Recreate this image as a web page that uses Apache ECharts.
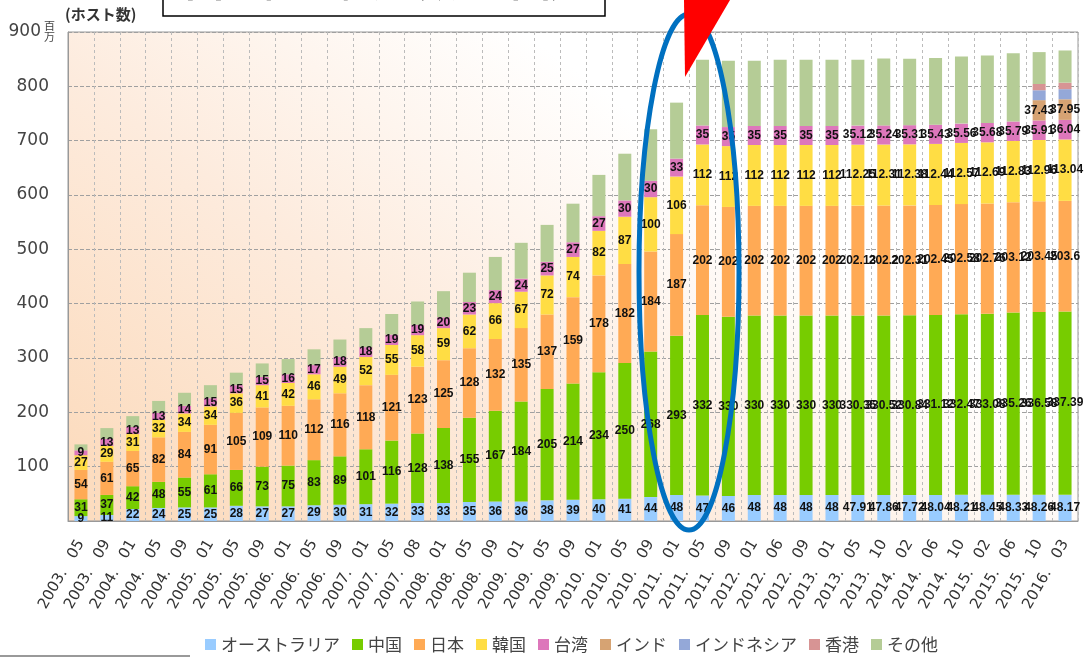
<!DOCTYPE html>
<html>
<head>
<meta charset="utf-8">
<script src="https://cdn.jsdelivr.net/npm/echarts@6/dist/echarts.min.js"></script>
<style>
  html, body { margin: 0; padding: 0; background: #fff; }
  #chart { width: 1091px; height: 659px; }
</style>
</head>
<body>
<div id="chart"></div>
<script>
// 調査時期
const months = ['2003. 05', '2003. 09', '2004. 01', '2004. 05', '2004. 09', '2005. 01', '2005. 05', '2005. 09',
  '2006. 01', '2006. 05', '2006. 09', '2007. 01', '2007. 05', '2007. 08', '2008. 01', '2008. 05', '2008. 09',
  '2009. 01', '2009. 05', '2009. 09', '2010. 01', '2010. 05', '2010. 09', '2011. 01', '2011. 05', '2011. 09',
  '2012. 01', '2012. 06', '2012. 09', '2013. 01', '2013. 05', '2013. 10', '2014. 02', '2014. 06', '2014. 10',
  '2015. 02', '2015. 06', '2015. 10', '2016. 03']

// 国別ホスト数（百万）
const australia = [9, 11, 22, 24, 25, 25, 28, 27, 27, 29, 30, 31, 32, 33, 33, 35, 36, 36, 38, 39,
  40, 41, 44, 48, 47, 46, 48, 48, 48, 48, 47.91, 47.86, 47.72, 48.04, 48.21, 48.45, 48.33, 48.26, 48.17]
const china = [31, 37, 42, 48, 55, 61, 66, 73, 75, 83, 89, 101, 116, 128, 138, 155, 167, 184, 205, 214,
  234, 250, 268, 293, 332, 330, 330, 330, 330, 330, 330.35, 330.52, 330.84, 331.12, 332.47, 333.08, 335.26, 336.58, 337.39]
const japan = [54, 61, 65, 82, 84, 91, 105, 109, 110, 112, 116, 118, 121, 123, 125, 128, 132, 135, 137, 159,
  178, 182, 184, 187, 202, 202, 202, 202, 202, 202, 202.13, 202.2, 202.31, 202.45, 202.58, 202.76, 203.12, 203.45, 203.6]
const korea = [27, 29, 31, 32, 34, 34, 36, 41, 42, 46, 49, 52, 55, 58, 59, 62, 66, 67, 72, 74,
  82, 87, 100, 106, 112, 112, 112, 112, 112, 112, 112.25, 112.31, 112.38, 112.44, 112.57, 112.69, 112.83, 112.96, 113.04]
const taiwan = [9, 13, 13, 13, 14, 15, 15, 15, 16, 17, 18, 18, 19, 19, 20, 23, 24, 24, 25, 27,
  27, 30, 30, 33, 35, 35, 35, 35, 35, 35, 35.12, 35.24, 35.31, 35.43, 35.56, 35.68, 35.79, 35.91, 36.04]
const india = [null, null, null, null, null, null, null, null, null, null, null, null, null, null, null, null, null, null, null, null,
  null, null, null, null, null, null, null, null, null, null, null, null, null, null, null, null, null, 37.43, 37.95]
const indonesia = [null, null, null, null, null, null, null, null, null, null, null, null, null, null, null, null, null, null, null, null,
  null, null, null, null, null, null, null, null, null, null, null, null, null, null, null, null, null, 18.2, 18.6]
const hongkong = [null, null, null, null, null, null, null, null, null, null, null, null, null, null, null, null, null, null, null, null,
  null, null, null, null, null, null, null, null, null, null, null, null, null, null, null, null, null, 11.5, 12.0]
const others = [11, 20, 20, 22, 24, 24, 23, 25, 28, 29, 32, 35, 38, 43, 48, 54, 61, 66, 68, 71,
  76, 86, 95, 103, 121, 122, 120, 122, 122, 122, 121.2, 122.9, 122.4, 122.5, 123.6, 124.3, 125.7, 58.7, 59.2]

const JP = '"Noto Sans CJK JP", sans-serif'

function stackBar(name, data, color, showLabel) {
  return {
    name: name,
    type: 'bar',
    stack: 'total',
    barWidth: 13,
    data: data,
    itemStyle: { color: color },
    label: {
      show: showLabel,
      position: 'inside',
      color: '#111',
      fontSize: 12,
      fontWeight: 'bold',
      fontFamily: '"Liberation Sans", Arial, sans-serif',
    },
  }
}

let option = {
  animation: false,
  backgroundColor: '#fff',
  textStyle: { fontFamily: JP },
  grid: {
    left: 68,
    right: 13,
    top: 32,
    bottom: 138,
    show: true,
    borderColor: '#999',
    borderWidth: 1,
    // 下が薄いオレンジ、上が白
    backgroundColor: new echarts.graphic.LinearGradient(0.1, 1, 0.45, 0, [
      { offset: 0, color: '#fcdcbf' },
      { offset: 0.5, color: '#fdebdd' },
      { offset: 1, color: '#ffffff' },
    ]),
  },
  legend: {
    left: 200,
    top: 631,
    icon: 'rect',
    itemWidth: 11,
    itemHeight: 11,
    itemGap: 12,
    textStyle: { fontSize: 17, color: '#444', fontFamily: JP },
    data: ['オーストラリア', '中国', '日本', '韓国', '台湾', 'インド', 'インドネシア', '香港', 'その他'],
  },
  xAxis: {
    type: 'category',
    data: months,
    axisLine: { lineStyle: { color: '#999' } },
    axisTick: { show: false },
    axisLabel: {
      interval: 0,
      rotate: 60,
      margin: 20,
      fontSize: 15,
      color: '#333',
      fontFamily: '"DejaVu Sans", sans-serif',
      // 年と月の間は広めに空ける
      formatter: function (v) { return v.replace(' ', '\u3000') },
    },
    splitLine: {
      show: true,
      interval: 0,
      lineStyle: { color: '#bbb', type: [3, 3] },
    },
  },
  yAxis: {
    type: 'value',
    min: 0,
    max: 900,
    interval: 100,
    name: '(ホスト数)',
    nameLocation: 'end',
    nameGap: 10,
    nameTextStyle: { align: 'left', fontSize: 15, fontWeight: 'bold', color: '#333', padding: [0, 0, 0, -3] },
    axisLine: { show: true, lineStyle: { color: '#999' } },
    axisTick: { show: false },
    axisLabel: {
      margin: 19,
      fontSize: 17,
      color: '#444',
      fontFamily: '"DejaVu Sans", sans-serif',
      formatter: function (v) {
        if (v === 0) return ''
        if (v === 900) return '{a|900}{s|}'
        return String(v)
      },
      rich: {
        a: { fontSize: 17, color: '#444', fontFamily: '"DejaVu Sans", sans-serif' },
        s: { width: 8 },
      },
    },
    splitLine: { lineStyle: { color: '#a0a0a0', type: [4, 2] } },
  },
  series: [
    stackBar('オーストラリア', australia, '#99ccff', true),
    stackBar('中国', china, '#77cc00', true),
    stackBar('日本', japan, '#ffaa55', true),
    stackBar('韓国', korea, '#ffdd44', true),
    stackBar('台湾', taiwan, '#dd77bb', true),
    stackBar('インド', india, '#d6a373', true),
    stackBar('インドネシア', indonesia, '#94a8d8', false),
    stackBar('香港', hongkong, '#d79494', false),
    stackBar('その他', others, '#b5cc96', false),
  ],
  graphic: [
    // タイトル枠（上が切れている）
    {
      type: 'rect',
      z: 100,
      shape: { x: 163, y: -10, width: 442, height: 26 },
      style: { fill: '#fff', stroke: '#000', lineWidth: 1.5 },
    },
    {
      type: 'text',
      z: 101,
      x: 185,
      y: -38,
      style: { text: '国別割り振り数の推移', font: 'bold 39px "Noto Sans CJK JP"', fill: '#000' },
    },
    // 単位
    {
      type: 'text',
      z: 100,
      x: 44,
      y: 20,
      style: { text: '百\n万', font: '11px "Noto Sans CJK JP"', lineHeight: 11, fill: '#444' },
    },
    // 注目の楕円と矢印
    {
      type: 'ellipse',
      z: 100,
      shape: { cx: 689, cy: 272, rx: 50, ry: 258 },
      style: { fill: 'none', stroke: '#0070c0', lineWidth: 5 },
    },
    {
      type: 'polygon',
      z: 101,
      shape: { points: [[684, 0], [730, 0], [685, 77]] },
      style: { fill: '#ff0000' },
    },
    {
      type: 'line',
      z: 100,
      shape: { x1: 0, y1: 656, x2: 190, y2: 656 },
      style: { stroke: '#999', lineWidth: 2 },
    },
  ],
}

let myChart = echarts.init(document.getElementById('chart'))
myChart.setOption(option)
</script>
</body>
</html>
